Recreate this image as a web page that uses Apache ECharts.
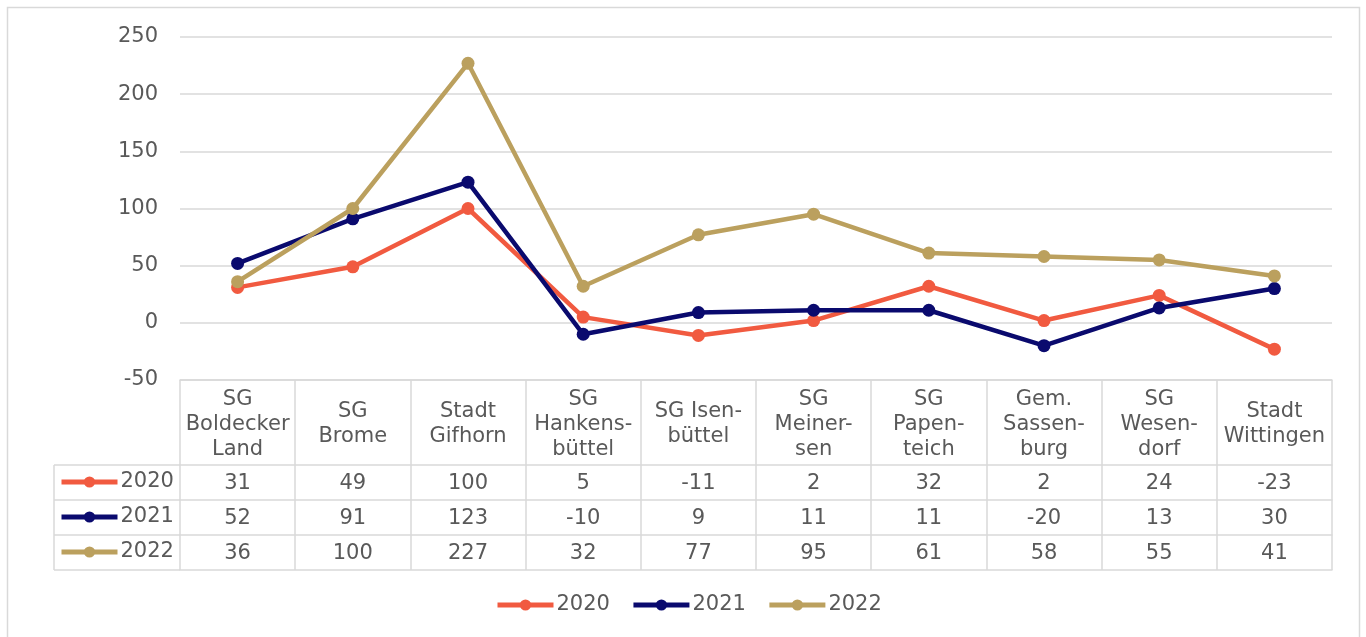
<!DOCTYPE html>
<html><head><meta charset="utf-8">
<script src="https://cdn.jsdelivr.net/npm/echarts@6/dist/echarts.min.js"></script>
<style>html,body{margin:0;padding:0;background:#fff}#c{width:1366px;height:637px}</style>
</head><body><div id="c"></div>
<script>
const categories = ["SG\nBoldecker\nLand","SG\nBrome","Stadt\nGifhorn","SG\nHankens-\nbüttel","SG Isen-\nbüttel","SG\nMeiner-\nsen","SG\nPapen-\nteich","Gem.\nSassen-\nburg","SG\nWesen-\ndorf","Stadt\nWittingen"];
const years = ["2020","2021","2022"];
const v2020 = [31,49,100,5,-11,2,32,2,24,-23];
const v2021 = [52,91,123,-10,9,11,11,-20,13,30];
const v2022 = [36,100,227,32,77,95,61,58,55,41];
const yTicks = {min:-50, max:250, interval:50};
const colors = ["#F15A40","#0A0A6E","#BBA05E"];

const FONT = "DejaVu Sans";
const TXT = "#595959";
const LINE = "#D9D9D9";
const fs = 21;
const G = {left:180, right:34, top:37, bottom:257};
const plotBottom = 637 - G.bottom; // 380
const headerH = 85, rowH = 35;
const seriesVals = [v2020, v2021, v2022];

const xAxes = [{
  type:'category', data:categories, gridIndex:0, position:'bottom',
  boundaryGap:true,
  axisLine:{show:true, onZero:false, lineStyle:{color:LINE, width:1.5}},
  axisTick:{show:true, alignWithLabel:false, inside:false, length:headerH+3*rowH, lineStyle:{color:LINE, width:1.5}},
  axisLabel:{interval:0, color:TXT, fontFamily:FONT, fontSize:fs, lineHeight:25, margin:headerH/2+2, verticalAlign:'middle', align:'center'},
  splitLine:{show:false}
}];
for (let i=0;i<=3;i++){
  const vals = seriesVals[i];
  xAxes.push({
    type:'category', data:categories, gridIndex:0, position:'bottom',
    offset: headerH + i*rowH,
    boundaryGap:true,
    axisLine:{show:true, onZero:false, lineStyle:{color:LINE, width:1.5}},
    axisTick:{show:false},
    axisLabel:{show: !!vals, interval:0, color:TXT, fontFamily:FONT, fontSize:fs, margin:rowH/2+1, verticalAlign:'middle', align:'center',
      formatter: (v, idx) => vals ? String(vals[idx]) : ''},
    splitLine:{show:false}
  });
}

const series = years.map((y,i)=>({
  name:y, type:'line', xAxisIndex:0, yAxisIndex:0, data:seriesVals[i],
  symbol:'circle', symbolSize:13, lineStyle:{width:4.5, color:colors[i]},
  itemStyle:{color:colors[i]}, color:colors[i], animation:false
}));

const tableTop = plotBottom + headerH;
const gfx = [
  {type:'rect', shape:{x:7.5,y:7.5,width:1352,height:650}, style:{fill:null, stroke:LINE, lineWidth:1.5}, silent:true},
  {type:'line', shape:{x1:54,y1:tableTop,x2:54,y2:tableTop+3*rowH}, style:{stroke:LINE, lineWidth:1.5}},
];
for (let i=0;i<=3;i++){
  gfx.push({type:'line', shape:{x1:54,y1:tableTop+i*rowH,x2:G.left,y2:tableTop+i*rowH}, style:{stroke:LINE, lineWidth:1.5}});
}

const legendCommon = {itemWidth:56, itemHeight:14, padding:0,
  lineStyle:{width:5}, itemStyle:{borderWidth:0},
  textStyle:{color:TXT, fontFamily:FONT, fontSize:fs, lineHeight:24, padding:[4,0,0,-2]}};
const option = {
  animation:false,
  backgroundColor:'#fff',
  color:colors,
  textStyle:{fontFamily:FONT},
  grid:[{left:G.left, right:G.right, top:G.top, bottom:G.bottom, containLabel:false}],
  xAxis:xAxes,
  yAxis:[{type:'value', min:yTicks.min, max:yTicks.max, interval:yTicks.interval,
    axisLine:{show:false}, axisTick:{show:false},
    axisLabel:{color:TXT, fontFamily:FONT, fontSize:fs, margin:22},
    splitLine:{lineStyle:{color:LINE, width:1.5}}}],
  legend:[
    Object.assign({data:years, top:591, left:495, orient:'horizontal', itemGap:21}, legendCommon),
    Object.assign({data:years, left:59, top:tableTop+3, orient:'vertical', itemGap:7}, legendCommon)
  ],
  graphic:gfx,
  series:series
};
const chart = echarts.init(document.getElementById('c'), null, {renderer:'canvas'});
chart.setOption(option);
</script></body></html>
